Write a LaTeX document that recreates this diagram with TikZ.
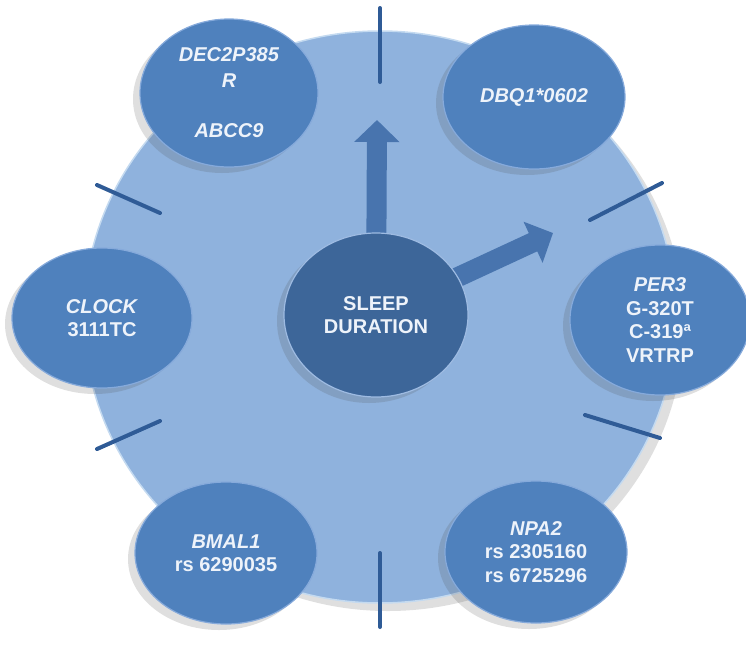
\documentclass[tikz,border=0pt]{standalone}
\usepackage{fontspec}
\setmainfont{Liberation Sans}
\usetikzlibrary{shapes.geometric,arrows.meta,shadows}
\definecolor{dialblue}{HTML}{8FB2DD}
\definecolor{dialrim}{HTML}{C4DAF0}
\definecolor{geneblue}{HTML}{4F81BD}
\definecolor{generim}{HTML}{86AADB}
\definecolor{sleepblue}{HTML}{3D6699}
\definecolor{tickblue}{HTML}{2F5B96}
\definecolor{arrowblue}{HTML}{4874AE}
\definecolor{txt}{HTML}{EEF3FA}
\pgfdeclarelayer{bg}
\pgfsetlayers{bg,main}
\begin{document}
\begin{tikzpicture}[x=1pt,y=-1pt,
  gene/.style={ellipse, fill=geneblue, draw=generim, line width=1.2pt,
    minimum width=182pt, minimum height=142pt, inner sep=0pt, text=txt,
    align=center, font=\bfseries\fontsize{20}{23.5}\selectfont,
    drop shadow={shadow xshift=-7pt, shadow yshift=-6pt, opacity=0.18, fill=black!70}},
  tickmark/.style={draw=tickblue, line width=4pt, line cap=round},
  ptr/.style={draw=arrowblue, line width=20pt, -{Triangle[length=22pt,width=44pt]}},
]
\useasboundingbox (0,0) rectangle (746,648);

\begin{pgfonlayer}{bg}
  \node[ellipse, minimum width=592pt, minimum height=572pt, inner sep=0pt,
        fill=dialblue, draw=dialrim, line width=1.5pt,
        drop shadow={shadow xshift=8pt, shadow yshift=-8pt, opacity=0.18, fill=black!70}]
        (dial) at (380,317) {};
  \draw[tickmark] (380,8) -- (380,82);
  \draw[tickmark] (380,553) -- (380,627);
  \draw[tickmark] (590,220) -- (662,183);
  \draw[tickmark] (585,415) -- (660,438);
  \draw[tickmark] (97,185) -- (160,213);
  \draw[tickmark] (97,449) -- (160,421);
\end{pgfonlayer}

\node[gene, minimum width=178pt, minimum height=148pt,
      font=\bfseries\fontsize{20}{26}\selectfont] (dec) at (229,93)
  {\textit{DEC2P385}\\\textit{R}\\[24pt]\textit{ABCC9}};
\node[gene, minimum height=144pt] (dbq) at (534,97) {\textit{DBQ1*0602}};
\node[gene, minimum width=180pt, minimum height=150pt] (per) at (660,320)
  {\textit{PER3}\\G-320T\\C-319ª\\VRTRP};
\node[gene, minimum width=180pt, minimum height=140pt] (clock) at (102,318)
  {\textit{CLOCK}\\3111TC};
\node[gene] (bmal) at (226,553) {\textit{BMAL1}\\rs 6290035};
\node[gene] (npa) at (536,552) {\textit{NPA2}\\rs 2305160\\rs 6725296};

\node[gene, fill=sleepblue, draw=generim!80, minimum width=184pt, minimum height=164pt] (sleep) at (376,315)
  {SLEEP\\DURATION};

\coordinate (tipA) at (377,120);
\coordinate (tipB) at (553,233);
\begin{pgfonlayer}{bg}
  \draw[ptr] (sleep.center) -- (tipA);
  \draw[ptr] (sleep.center) -- (tipB);
\end{pgfonlayer}
\end{tikzpicture}
\end{document}
